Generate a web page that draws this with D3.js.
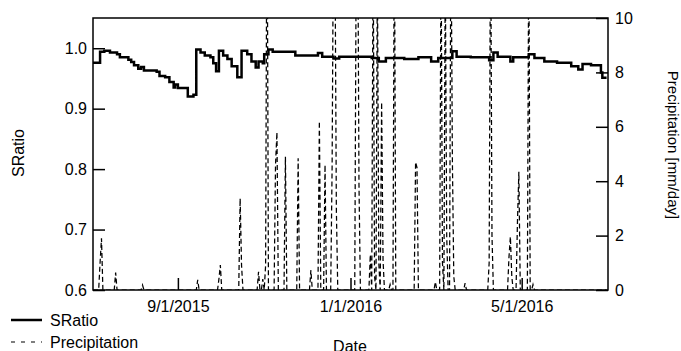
<!DOCTYPE html>
<html>
<head>
<meta charset="utf-8">
<script src="https://cdn.jsdelivr.net/npm/d3@7"></script>
<style>
  body { margin: 0; background: #fff; }
  text { font-family: "Liberation Sans", Arial, sans-serif; fill: #000; }
</style>
</head>
<body>
<svg class="chart"></svg>
<script>
// SRatio, read at the days where the step line changes
var sratioDates = ['2015-07-03','2015-07-08','2015-07-11','2015-07-15','2015-07-20','2015-07-22','2015-07-28','2015-07-30',
  '2015-08-01','2015-08-04','2015-08-06','2015-08-08','2015-08-17','2015-08-19','2015-08-23','2015-08-26','2015-08-29','2015-08-30',
  '2015-09-01','2015-09-08','2015-09-12','2015-09-14','2015-09-17','2015-09-20','2015-09-24','2015-09-26','2015-09-28','2015-09-30',
  '2015-10-03','2015-10-06','2015-10-09','2015-10-13','2015-10-16','2015-10-20','2015-10-23','2015-10-26','2015-10-28','2015-10-31',
  '2015-11-01','2015-11-04','2015-11-07','2015-11-23','2015-12-09','2015-12-12','2015-12-20','2015-12-24',
  '2016-01-16','2016-01-21','2016-01-26','2016-02-08','2016-02-18','2016-02-27','2016-03-03','2016-03-13','2016-03-16','2016-03-26',
  '2016-04-08','2016-04-11','2016-04-14','2016-04-23','2016-04-25','2016-05-06','2016-05-10','2016-05-17','2016-05-26',
  '2016-06-05','2016-06-10','2016-06-13','2016-06-19','2016-06-26','2016-06-27','2016-06-30'];
var sratioValues = [0.976,0.994,0.996,0.993,0.990,0.985,0.981,0.977,
  0.972,0.966,0.969,0.963,0.961,0.954,0.952,0.944,0.935,0.940,
  0.934,0.920,0.923,0.998,0.993,0.988,0.985,0.975,0.962,0.996,
  0.988,0.982,0.970,0.952,0.996,0.990,0.978,0.968,0.978,0.975,
  0.990,0.998,0.994,0.988,0.992,0.986,0.983,0.986,
  0.984,0.978,0.984,0.982,0.985,0.978,0.984,0.995,0.986,0.985,
  0.980,0.993,0.986,0.978,0.985,0.990,0.984,0.978,0.976,
  0.970,0.965,0.974,0.972,0.960,0.951,0.951];

// rainy days only (mm/day), every other day is dry
var rainDates = ['2015-07-08','2015-07-09','2015-07-19','2015-08-07','2015-09-15','2015-09-30','2015-10-01','2015-10-15','2015-10-16',
  '2015-10-28','2015-10-31','2015-11-02','2015-11-03','2015-11-09','2015-11-10','2015-11-16','2015-11-25','2015-12-04','2015-12-10',
  '2015-12-14','2015-12-19','2015-12-20','2015-12-21','2015-12-22','2016-01-05','2016-01-06','2016-01-07','2016-01-15','2016-01-17',
  '2016-01-18','2016-01-20','2016-01-21','2016-01-23','2016-01-24','2016-01-29','2016-02-01','2016-02-16','2016-02-17','2016-03-01',
  '2016-03-05','2016-03-06','2016-03-08','2016-03-09','2016-03-12','2016-03-13','2016-03-14','2016-03-22','2016-04-08','2016-04-09',
  '2016-04-10','2016-04-22','2016-04-23','2016-04-24','2016-04-28','2016-04-29','2016-05-06','2016-05-09'];
var rainValues = [1.0,1.9,0.64,0.18,0.37,0.4,0.92,3.37,0.9,
  0.67,0.4,0.9,16,4.6,5.8,4.9,4.84,0.73,6.2,
  4.6,4.5,14,13,3.0,12,15,3.86,1.3,13,
  0.5,12,1.0,6.9,1.1,0.2,14,4.7,4.5,0.3,
  13,1.0,12,2.0,14,4.84,0.5,0.25,1.0,14,
  2.0,1.2,1.96,0.5,2.5,4.35,13,0.2];

var dateTicks = ['2015-09-01','2016-01-01','2016-05-01'];
var leftTicks = [0.6,0.7,0.8,0.9,1.0];
var rightTicks = [0,2,4,6,8,10];

var width = 681, height = 351;
var plotLeft = 93, plotRight = 608, plotTop = 18, plotBottom = 290;
var parse = d3.timeParse('%Y-%m-%d');

var svg = d3.select('.chart').attr('width', width).attr('height', height);

var x = d3.scaleTime()
  .domain([parse('2015-07-03'), parse('2016-07-01')])
  .range([plotLeft, plotRight]);
var y = d3.scaleLinear().domain([0.6, 1.05]).range([plotBottom, plotTop]);
var y2 = d3.scaleLinear().domain([0, 10]).range([plotBottom, plotTop]);

var sratio = sratioDates.map(function(d, i) { return { date: parse(d), value: sratioValues[i] }; });

var rainByDay = {};
rainDates.forEach(function(d, i) { rainByDay[d] = rainValues[i]; });
var fmt = d3.timeFormat('%Y-%m-%d');
var rain = d3.timeDay.range(parse('2015-07-03'), parse('2016-07-01')).map(function(d) {
  return { date: d, value: rainByDay[fmt(d)] || 0 };
});

svg.append('clipPath').attr('id', 'plot')
  .append('rect').attr('x', plotLeft).attr('y', plotTop)
  .attr('width', plotRight - plotLeft).attr('height', plotBottom - plotTop);

svg.append('path')
  .datum(rain)
  .attr('clip-path', 'url(#plot)')
  .attr('fill', 'none')
  .attr('stroke', '#000')
  .attr('stroke-width', 1.25)
  .attr('stroke-dasharray', '5,3')
  .attr('d', d3.line().x(function(d) { return x(d.date); }).y(function(d) { return y2(d.value); }));

svg.append('path')
  .datum(sratio)
  .attr('fill', 'none')
  .attr('stroke', '#000')
  .attr('stroke-width', 2.5)
  .attr('d', d3.line().curve(d3.curveStepAfter).x(function(d) { return x(d.date); }).y(function(d) { return y(d.value); }));

// axes, ticks pointing inward
var axisL = svg.append('g').attr('transform', 'translate(' + plotLeft + ',0)')
  .call(d3.axisLeft(y).tickValues(leftTicks).tickSize(-12).tickPadding(6).tickFormat(d3.format('.1f')));
var axisR = svg.append('g').attr('transform', 'translate(' + plotRight + ',0)')
  .call(d3.axisRight(y2).tickValues(rightTicks).tickSize(-12).tickPadding(7));
var axisB = svg.append('g').attr('transform', 'translate(0,' + plotBottom + ')')
  .call(d3.axisBottom(x).tickValues(dateTicks.map(parse)).tickSize(-12).tickPadding(11)
    .tickFormat(d3.timeFormat('%-m/%-d/%Y')));

[axisL, axisR, axisB].forEach(function(g) {
  g.select('.domain').remove();
  g.selectAll('line').attr('stroke', '#000').attr('stroke-width', 1.5);
  g.selectAll('text').attr('font-size', 16).attr('font-family', null);
});

svg.append('rect')
  .attr('x', plotLeft).attr('y', plotTop)
  .attr('width', plotRight - plotLeft).attr('height', plotBottom - plotTop)
  .attr('fill', 'none').attr('stroke', '#000').attr('stroke-width', 1.5);

svg.append('text').attr('transform', 'translate(24,153) rotate(-90)')
  .attr('text-anchor', 'middle').attr('font-size', 16).text('SRatio');
svg.append('text').attr('transform', 'translate(668,145) rotate(90)')
  .attr('text-anchor', 'middle').attr('font-size', 15).text('Precipitation [mm/day]');
svg.append('text').attr('x', 350).attr('y', 352)
  .attr('text-anchor', 'middle').attr('font-size', 16).text('Date');

// legend
svg.append('line').attr('x1', 11).attr('x2', 42).attr('y1', 320).attr('y2', 320)
  .attr('stroke', '#000').attr('stroke-width', 2.5);
svg.append('text').attr('x', 50).attr('y', 326).attr('font-size', 16).text('SRatio');
svg.append('line').attr('x1', 11).attr('x2', 42).attr('y1', 342).attr('y2', 342)
  .attr('stroke', '#000').attr('stroke-width', 1.2).attr('stroke-dasharray', '4,6');
svg.append('text').attr('x', 50).attr('y', 347.5).attr('font-size', 16).text('Precipitation');
</script>
</body>
</html>
